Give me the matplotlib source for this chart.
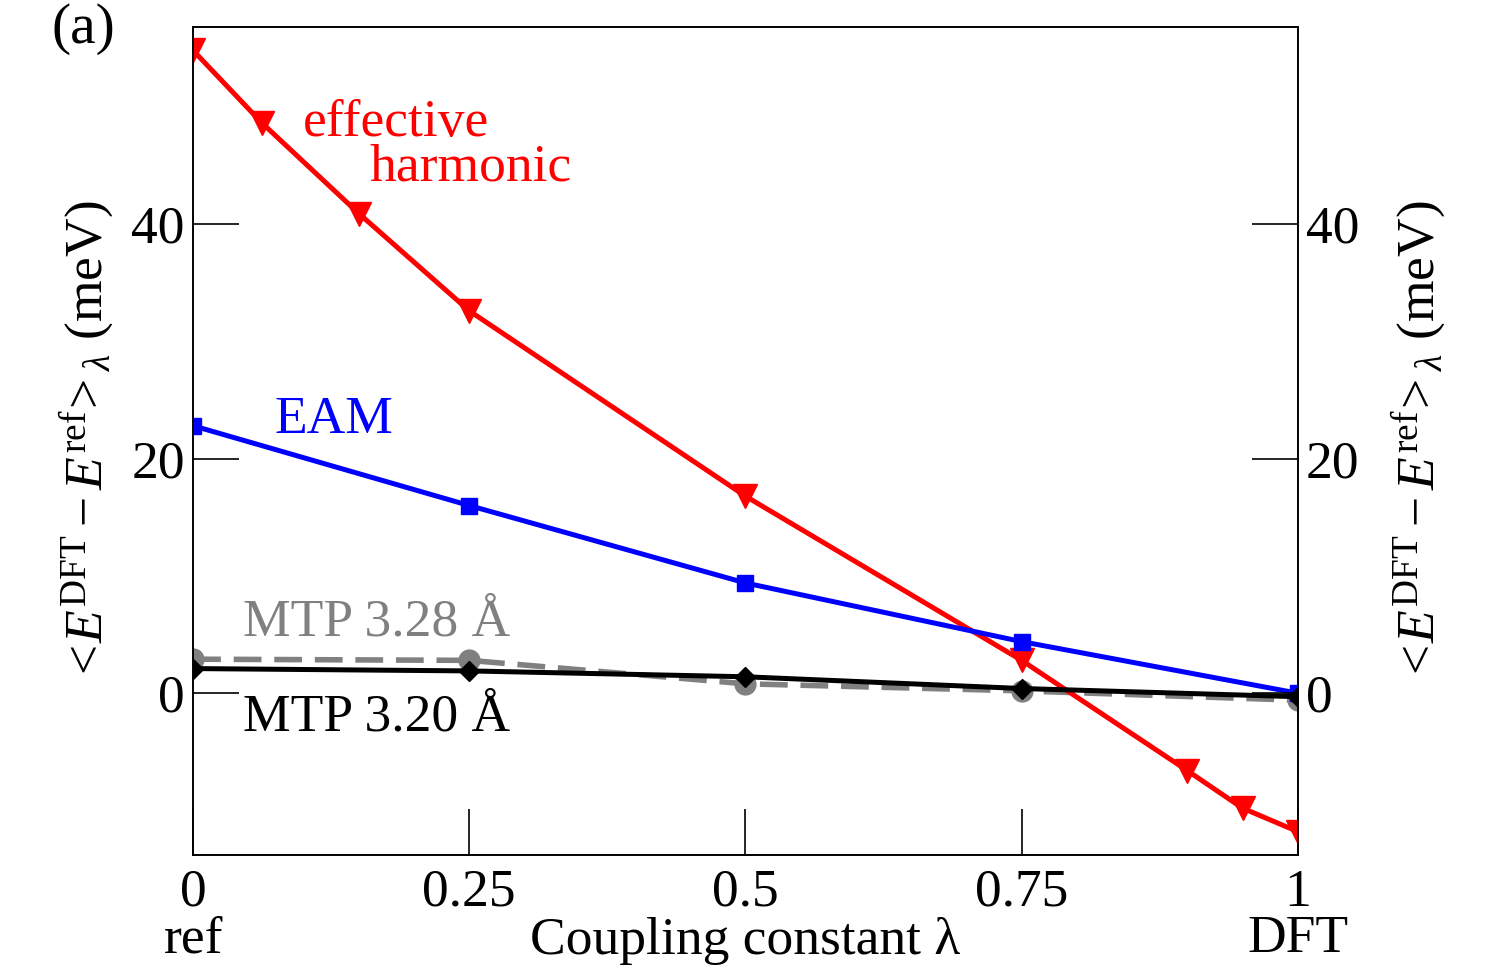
import matplotlib
matplotlib.use("Agg")
import matplotlib.pyplot as plt

plt.rcParams["font.family"] = ["Liberation Serif", "DejaVu Serif"]
plt.rcParams["mathtext.fontset"] = "custom"
plt.rcParams["mathtext.rm"] = "Liberation Serif"
plt.rcParams["mathtext.it"] = "Liberation Serif:italic"
plt.rcParams["mathtext.bf"] = "Liberation Serif:bold"

# coupling constants and <E_DFT - E_ref> (meV)
lam_harm = [0, 0.0625, 0.15, 0.25, 0.5, 0.75, 0.9, 0.95, 1.0]
e_harm = [54.8, 48.6, 40.9, 32.6, 16.8, 2.8, -6.6, -9.8, -11.8]

lam = [0, 0.25, 0.5, 0.75, 1.0]
e_eam = [22.8, 16.0, 9.4, 4.4, 0.0]
e_mtp320 = [2.1, 1.9, 1.4, 0.4, -0.3]
e_mtp328 = [2.9, 2.8, 0.8, 0.2, -0.6]

xticks = [0, 0.25, 0.5, 0.75, 1]
xticklabels = ["0\nref", "0.25", "0.5", "0.75", "1\nDFT"]
yticks = [0, 20, 40]

fs = 38.5
fig = plt.figure(figsize=(15.09, 9.69), dpi=100)
ax = fig.add_axes([0.128, 0.1176, 0.732, 0.8545])

ax.plot(lam_harm, e_harm, color="red", lw=3.6, marker="v", ms=17, zorder=3)
ax.plot(lam, e_eam, color="blue", lw=3.6, marker="s", ms=12, zorder=3)
ax.plot(lam, e_mtp328, color="gray", lw=4, ls=(0, (5, 2.3)), marker="o", ms=15, zorder=2)
ax.plot(lam, e_mtp320, color="black", lw=3.6, marker="D", ms=10, zorder=3)

ax.text(0.0995, 48.6, "effective", color="red", fontsize=fs, va="center")
ax.text(0.16, 44.8, "harmonic", color="red", fontsize=fs, va="center")
ax.text(0.074, 23.3, "EAM", color="blue", fontsize=fs, va="center")
ax.text(0.045, 6.0, "MTP 3.28 Å", color="gray", fontsize=fs, va="center")
ax.text(0.045, -2.1, "MTP 3.20 Å", color="black", fontsize=fs, va="center")
fig.text(0.034, 0.97, "(a)", fontsize=fs + 3, va="center")

ax.set_xlim(0, 1)
ax.set_ylim(-13.8, 56.8)
ax.set_xticks(xticks)
ax.set_xticklabels(xticklabels, linespacing=0.95)
ax.set_yticks(yticks)
ax.tick_params(direction="in", length=33, width=1.2, labelsize=fs, pad=6)
ax.tick_params(axis="x", pad=10)
ylab = r"$<\!E^{\mathrm{DFT}} - E^{\mathrm{ref}}\!>_{\lambda}$ (meV)"
ax.set_xlabel("Coupling constant λ", fontsize=fs, labelpad=-33)
ax.set_ylabel(ylab, fontsize=fs, labelpad=10)

ax2 = ax.twinx()
ax2.set_ylim(ax.get_ylim())
ax2.set_yticks(yticks)
ax2.tick_params(direction="in", length=33, width=1.2, labelsize=fs, pad=6)
ax2.set_ylabel(ylab, fontsize=fs, rotation=90, labelpad=22)

for a in (ax, ax2):
    for s in a.spines.values():
        s.set_linewidth(1.2)

fig.savefig("out.png", dpi=100)
